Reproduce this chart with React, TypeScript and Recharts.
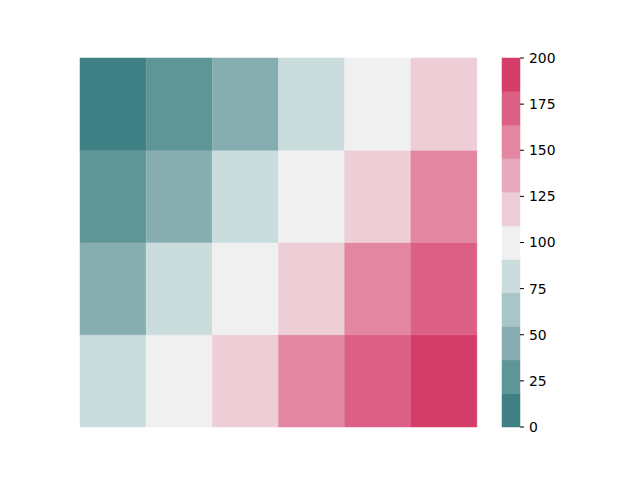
import { BarChart, Bar, Cell, XAxis, YAxis } from "recharts";

// heatmap rows, top to bottom
const row0 = [0, 25, 50, 75, 100, 125];
const row1 = [25, 50, 75, 100, 125, 150];
const row2 = [50, 75, 100, 125, 150, 175];
const row3 = [75, 100, 125, 150, 175, 200];
const columns = ["c0", "c1", "c2", "c3", "c4", "c5"];

const palette = [
  "#3e8084", "#5e9698", "#86aeb1", "#a8c5c7", "#cbdcdd", "#f0f0f0",
  "#edcdd6", "#e7a9bb", "#e286a1", "#dc6085", "#d43d6a",
];
const vmin = 0;
const vmax = 200;
const cbarTicks = [0, 25, 50, 75, 100, 125, 150, 175, 200];

const step = (vmax - vmin) / palette.length;
const colorFor = (v: number) =>
  palette[Math.min(palette.length - 1, Math.floor((v - vmin) / step))];

// stacked from the bottom: row3 first
const rowsBottomUp = [row3, row2, row1, row0];
const heatData = columns.map((c) => {
  const d: Record<string, number | string> = { name: c };
  rowsBottomUp.forEach((_, k) => (d["r" + k] = 1));
  return d;
});

const cbarData = [
  palette.reduce((acc: Record<string, number | string>, _, i) => {
    acc["s" + i] = step;
    return acc;
  }, { name: "cbar" }),
];

const font = { fontFamily: "DejaVu Sans", fontSize: 13.9, fill: "#000" };

export default function App() {
  return (
    <div style={{ position: "absolute", left: 0, top: 0, width: 640, height: 480, background: "#fff" }}>
      <div style={{ position: "absolute", left: 0, top: 0 }}>
        <BarChart
          width={640}
          height={480}
          data={heatData}
          margin={{ top: 58, left: 80, right: 163, bottom: 53 }}
          barCategoryGap={0}
          barGap={0}
        >
          <XAxis dataKey="name" hide />
          <YAxis hide domain={[0, 4]} />
          {rowsBottomUp.map((r, k) => (
            <Bar key={k} dataKey={"r" + k} stackId="h" isAnimationActive={false}>
              {r.map((v, i) => (
                <Cell key={i} fill={colorFor(v)} stroke={colorFor(v)} strokeWidth={0.5} />
              ))}
            </Bar>
          ))}
        </BarChart>
      </div>
      <div style={{ position: "absolute", left: 0, top: 0 }}>
        <BarChart
          width={640}
          height={480}
          data={cbarData}
          margin={{ top: 58, left: 502, right: 60, bottom: 53 }}
          barCategoryGap={0}
          barGap={0}
        >
          <XAxis dataKey="name" hide />
          <YAxis
            orientation="right"
            width={60}
            domain={[vmin, vmax]}
            ticks={cbarTicks}
            axisLine={false}
            tickSize={4}
            tickMargin={5}
            tickLine={{ stroke: "#000" }}
            tick={font}
            interval={0}
          />
          {palette.map((c, i) => (
            <Bar key={i} dataKey={"s" + i} stackId="c" fill={c} stroke={c} strokeWidth={0.5} isAnimationActive={false} />
          ))}
        </BarChart>
      </div>
    </div>
  );
}
